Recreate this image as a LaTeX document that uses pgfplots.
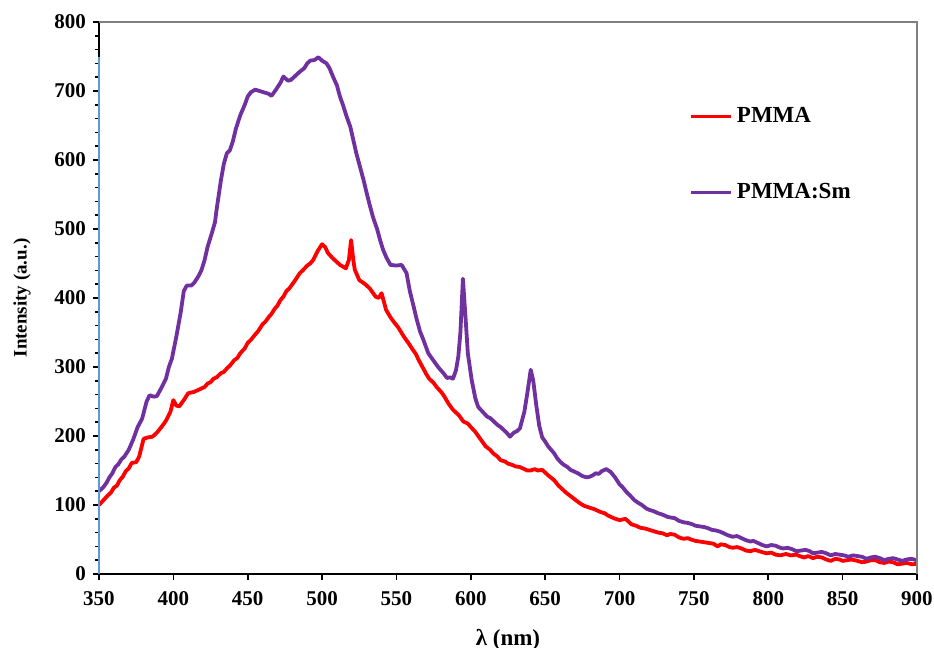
\documentclass[border=0pt]{standalone}
\usepackage{fontspec}
\setmainfont{Liberation Serif}
\usepackage{pgfplots}
\pgfplotsset{compat=1.18}
\definecolor{pmmared}{RGB}{255,0,0}
\definecolor{smpurple}{RGB}{112,48,160}
\definecolor{axblue}{RGB}{91,155,213}
\begin{document}
\begin{tikzpicture}
\path[use as bounding box] (-49.5pt,-37pt) rectangle (417.5pt,287pt);
\begin{axis}[
  scale only axis,
  width=409pt, height=276pt,
  xmin=350, xmax=900, ymin=0, ymax=800,
  xtick={350,400,...,900},
  ytick={0,100,...,800},
  minor y tick num=4,
  clip mode=individual,
  axis x line*=bottom, axis y line*=left,
  axis line style={black, line width=0.8pt, -},
  tick align=outside,
  major tick length=3pt, minor tick length=2pt,
  tick style={black, line width=0.8pt},
  /pgf/number format/assume math mode=true,
  ticklabel style={font=\fontsize{10.5}{12}\selectfont\bfseries},
  xticklabel style={yshift=-2pt},
  xlabel={\bfseries λ (nm)},
  ylabel={\bfseries Intensity (a.u.)},
  xlabel style={font=\fontsize{11.5}{13}\selectfont, yshift=-5pt},
  ylabel style={font=\fontsize{9.5}{11}\selectfont, yshift=5pt},
  legend style={draw=none, fill=none, at={(0.722,0.853)}, anchor=north west,
    font=\fontsize{11.5}{13}\selectfont\bfseries, row sep=25pt,
    inner sep=0pt},
  legend cell align=left,
  legend image code/.code={\draw[#1, line width=1.5pt] (0pt,0pt) -- (20pt,0pt);},
]
\addplot[pmmared, line width=1.9pt, line join=round] coordinates {
(350,100)(353,107)(356,114)(358,118)(360,125)(362,128)(364,136)(366,141)(368,149)(370,153)(372,161)(375,162)(377,170)(380,196)
(383,198)(386,199)(389,205)(392,213)(395,222)(398,235)(400,252)(402,244)(404,243)(407,252)
(410,262)(414,264)(418,268)(421,271)(423,276)(425,278)(427,283)(429,285)(432,291)(434,293)(436,298)(438,302)(441,310)(443,313)(445,320)
(448,327)(450,335)(452,339)(455,347)(457,352)(460,362)(462,366)(464,372)(466,377)(468,384)(470,389)(472,397)(474,402)(476,410)(478,414)(480,420)(482,426)(485,436)(487,440)(490,447)
(492,450)(494,455)(497,468)(500,478)(502,474)(504,465)(507,458)(512,448)(516,443)(518,455)(519.5,484)
(521,455)(522,441)(525,426)(529,420)(532,414)(536,402)(538,400)(540,407)(543,383)(546,372)(548,366)
(551,358)(555,344)(558,335)(561,325)(563,319)(565,310)(568,298)(570,290)(572,283)(575,277)(577,271)(580,264)(582,258)(585,247)(588,238)
(592,230)(595,221)(598,218)(600,213)(603,206)(605,200)(608,191)(610,185)(613,180)(615,175)(618,170)(620,165)(623,163)(625,160)(628,158)(630,156)(633,155)(635,153)(638,150)
(640,150)(643,152)(645,150)(648,151)(650,147)(652,143)(656,136)(659,128)(662,122)(664,118)(667,113)(670,108)(673,103)(676,99)(680,96)(683,94)(687,90)
(690,88)(692,85)(696,81)(700,78)(704,80)(708,72)(711,70)(714,67)(717,66)(720,64)(723,62)(726,60)(729,59)(732,56)(734,58)(737,57)
(740,53)(743,51)(746,52)(748,50)(751,48)(754,47)(757,46)(760,45)(763,44)(766,40)(768,43)(771,42)(774,39)(776,38)(779,39)(782,37)(785,34)(788,33)(791,35)(794,33)
(797,31)(799,30)(802,31)(805,28)(808,27)(812,29)(815,27)(819,28)(821,26)(824,24)(827,26)(830,23)(833,25)(836,24)(839,21)(842,19)(845,22)(848,21)(850,19)(853,20)
(856,21)(860,19)(863,17)(866,18)(869,20)(872,20)(875,17)(878,16)(881,18)(884,17)(887,14)(890,15)(893,16)(897,14)(900,15)
};
\addlegendentry{PMMA}
\addplot[smpurple, line width=1.9pt, line join=round] coordinates {
(350,120)(353,126)(355,132)(357,140)(359,146)(361,155)(363,159)(365,166)(367,170)(370,180)(373,195)(376,213)(379,225)(382,250)
(384,259)(387,257)(389,258)(392,270)(395,283)(397,300)(399,312)(402,344)(405,380)(407,410)
(409,418)(412,418)(414,422)(417,432)(419,441)(421,455)(423,474)(426,495)(428,510)(429,527)
(432,571)(434,595)(436,610)(438,614)(440,627)(442,645)(445,665)(448,680)(450,692)(452,698)
(455,702)(458,700)(461,698)(464,696)(466,693)(469,702)(472,712)(474,721)(477,715)(479,716)
(482,722)(485,728)(488,733)(490,740)(492,744)(495,745)(497.5,749)(500,744)(503,740)(505,733)
(507.5,720)(510,708)(512,692)(514,680)(516.5,663)(519,648)(521,629)(523,610)(525.5,590)(528,570)
(530,552)(532,535)(534.4,516)(537,500)(539,484)(541,470)(543.4,458)(546,448)(550,447)(553.5,448)
(556.8,436)(559,410)(561.3,390)(563.5,370)(565.8,352)(568,340)(571.4,320)(573,315)(575,309)(578,300)(580,295)(582,290)(584,284)
(586,285)(588,283)(590,295)(591.6,315)(593,350)(594.7,428)(596.5,370)(598,320)(600.6,281)(603,255)(605,242)
(608,235)(611,228)(613,226)(615,222)(618,216)(620,213)(622,209)(624,205)(626.3,199)(629,205)(631,207)(633,211)(636,235)(638,262)
(640.3,296)(642,280)(644,245)(646,215)(648,198)(650,192)(652,185)(654,180)(656,175)(658,168)(660,163)(662,159)(665,155)(667,151)(670,148)(672,146)
(675,142)(678,140)(680,141)(682,143)(684,146)(686,145)(688,149)(691,152)(694,148)(697,140)(700,130)(702,126)(705,118)(707,114)(710,107)(712,104)
(715,100)(718,95)(720,93)(723,91)(726,88)(729,86)(732,83)(734,82)(737,81)(740,77)(743,75)(746,74)(749,72)(751,70)(754,69)(757,68)(760,66)(762,64)(765,63)(768,61)
(771,58)(773,56)(776,54)(779,55)(782,52)(785,49)(788,47)(790,48)(793,45)(796,42)(799,40)(802,42)(805,41)(808,38)(810,37)(813,38)(816,36)(819,33)(822,34)(825,35)
(828,33)(830,30)(833,31)(836,32)(839,30)(842,27)(845,29)(848,28)(851,27)(854,25)(857,27)(860,26)(863,25)(866,22)(869,24)(872,25)(875,23)(878,20)(881,22)
(884,23)(887,21)(890,19)(893,21)(896,22)(900,20)
};
\addlegendentry{PMMA:Sm}
\addplot[axblue, line width=1.2pt, forget plot, clip=false] coordinates {(350,0)(350,749)};
\draw[gray, line width=0.8pt] (rel axis cs:0,1) -- (rel axis cs:1,1) -- (rel axis cs:1,0);
\end{axis}
\end{tikzpicture}
\end{document}
